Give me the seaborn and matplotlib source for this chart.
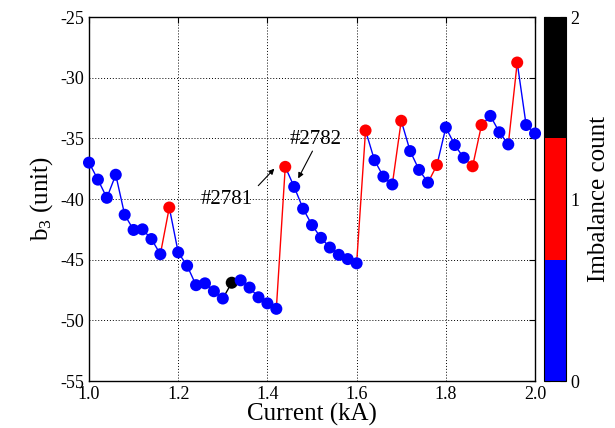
import numpy as np
import seaborn as sns
import matplotlib
import matplotlib.pyplot as plt
from matplotlib.collections import LineCollection
from matplotlib.colors import ListedColormap, Normalize

current = [1.00, 1.02, 1.04, 1.06, 1.08, 1.10, 1.12, 1.14, 1.16, 1.18,
           1.20, 1.22, 1.24, 1.26, 1.28, 1.30, 1.32, 1.34, 1.36, 1.38,
           1.40, 1.42, 1.44, 1.46, 1.48, 1.50, 1.52, 1.54, 1.56, 1.58,
           1.60, 1.62, 1.64, 1.66, 1.68, 1.70, 1.72, 1.74, 1.76, 1.78,
           1.80, 1.82, 1.84, 1.86, 1.88, 1.90, 1.92, 1.94, 1.96, 1.98, 2.00]
b3 = [-37.0, -38.4, -39.9, -38.0, -41.3, -42.55, -42.5, -43.3, -44.55, -40.7,
      -44.4, -45.5, -47.1, -46.95, -47.6, -48.2, -46.9, -46.7, -47.3, -48.1,
      -48.6, -49.05, -37.35, -39.0, -40.8, -42.15, -43.2, -44.0, -44.6, -44.95,
      -45.3, -34.35, -36.8, -38.15, -38.8, -33.55, -36.05, -37.6, -38.65, -37.2,
      -34.1, -35.55, -36.6, -37.3, -33.9, -33.15, -34.5, -35.5, -28.75, -33.9, -34.6]
imbalance = [0, 0, 0, 0, 0, 0, 0, 0, 0, 1,
             0, 0, 0, 0, 0, 0, 2, 0, 0, 0,
             0, 0, 1, 0, 0, 0, 0, 0, 0, 0,
             0, 1, 0, 0, 0, 1, 0, 0, 0, 1,
             0, 0, 0, 1, 1, 0, 0, 0, 1, 0, 0]
level_colors = ['#0000ff', '#ff0000', '#000000']

sns.set_style('white')
plt.rcParams['font.family'] = ['Liberation Serif', 'DejaVu Serif']
plt.rcParams['mathtext.fontset'] = 'custom'
plt.rcParams['mathtext.rm'] = 'Liberation Serif'
plt.rcParams['mathtext.it'] = 'Liberation Serif:italic'
plt.rcParams['axes.unicode_minus'] = False
plt.rcParams['text.color'] = 'black'
plt.rcParams['axes.labelcolor'] = 'black'
plt.rcParams['xtick.color'] = 'black'
plt.rcParams['ytick.color'] = 'black'

fig = plt.figure(figsize=(6.15, 4.28), dpi=100)
ax = fig.add_axes([0.1447, 0.1098, 0.7253, 0.8504])
cax = fig.add_axes([0.884, 0.1098, 0.036, 0.8504])

# line segments coloured by the count of the point they lead to
pts = np.column_stack([current, b3])
segs = np.stack([pts[:-1], pts[1:]], axis=1)
seg_colors = [level_colors[c] for c in imbalance[1:]]
ax.add_collection(LineCollection(segs, colors=seg_colors, linewidths=1.0, zorder=2))

sns.scatterplot(x=current, y=b3, hue=imbalance, palette=dict(enumerate(level_colors)),
                s=75, edgecolor='none', legend=False, ax=ax, zorder=3, clip_on=False)

ax.set_xlim(1.0, 2.0)
ax.set_ylim(-55, -25)
ax.set_xticks([1.0, 1.2, 1.4, 1.6, 1.8, 2.0])
ax.set_xticklabels(['1.0', '1.2', '1.4', '1.6', '1.8', '2.0'])
ax.set_yticks([-55, -50, -45, -40, -35, -30, -25])
ax.grid(True, color='black', linestyle=(0, (1, 2)), linewidth=0.7)
ax.tick_params(direction='in', labelsize=13, top=True, right=True, length=4, color='black')
for sp in ax.spines.values():
    sp.set_color('black')
    sp.set_linewidth(1.0)
    sp.set_zorder(2.5)
ax.set_xlabel('Current (kA)', fontsize=18, labelpad=0)
ax.set_ylabel('b$_3$ (unit)', fontsize=18, labelpad=4)

arrow = dict(arrowstyle='-|>', color='black', lw=0.8, mutation_scale=8, shrinkA=0, shrinkB=0)
ax.text(1.3075, -40.05, '#2781', fontsize=15, ha='center', va='center')
ax.annotate('', xy=(1.4155, -37.5), xytext=(1.3795, -38.9), arrowprops=arrow)
ax.text(1.507, -35.1, '#2782', fontsize=15, ha='center', va='center')
ax.annotate('', xy=(1.469, -38.3), xytext=(1.501, -36.05), arrowprops=arrow)

cmap = ListedColormap(level_colors)
sm = matplotlib.cm.ScalarMappable(norm=Normalize(0, 2), cmap=cmap)
cbar = fig.colorbar(sm, cax=cax, ticks=[0, 1, 2])
cbar.ax.tick_params(direction='in', labelsize=13, length=4, left=True, right=True, color='black')
cbar.outline.set_edgecolor('black')
cbar.set_label('Imbalance count', fontsize=18, labelpad=6)

fig.savefig('out.png', dpi=100)
